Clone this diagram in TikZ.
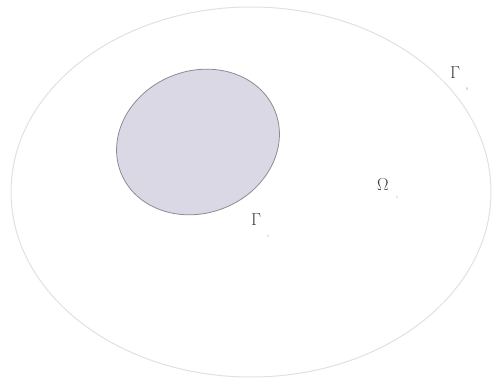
\documentclass[tikz,border=0pt]{standalone}
\usepackage{fontspec}
\setmainfont{Liberation Serif}
\definecolor{outerline}{RGB}{224,226,226}
\definecolor{innerfill}{RGB}{218,216,228}
\definecolor{innerline}{RGB}{140,140,148}
\definecolor{labelcol}{RGB}{60,60,60}
\definecolor{subcol}{RGB}{150,150,150}
\tikzset{
  lab/.style={inner sep=0pt, text=labelcol, font=\fontsize{17}{17}\selectfont},
  sublab/.style={inner sep=0pt, text=subcol, font=\fontsize{4}{4}\selectfont}
}
\begin{document}
\begin{tikzpicture}[x=1pt,y=1pt]
\useasboundingbox (0,0) rectangle (500,386);
\fill[white] (0,0) rectangle (500,386);
% outer domain
\draw[outerline, line width=1pt] (251,194) ellipse [x radius=240, y radius=185];
% inner obstacle
\draw[innerline, fill=innerfill, line width=0.8pt, rotate around={22:(198,244)}] (198,244) ellipse [x radius=83, y radius=71];
% labels
\node[lab] (g0) at (455,313) {$\Gamma$};
\node[sublab] (g0s) at (467,297) {0};
\node[lab] (om) at (383,201) {$\Omega$};
\node[sublab] (oms) at (397,189) {1};
\node[lab] (g1) at (256,166) {$\Gamma$};
\node[sublab] (g1s) at (268,150) {1};
\end{tikzpicture}
\end{document}
